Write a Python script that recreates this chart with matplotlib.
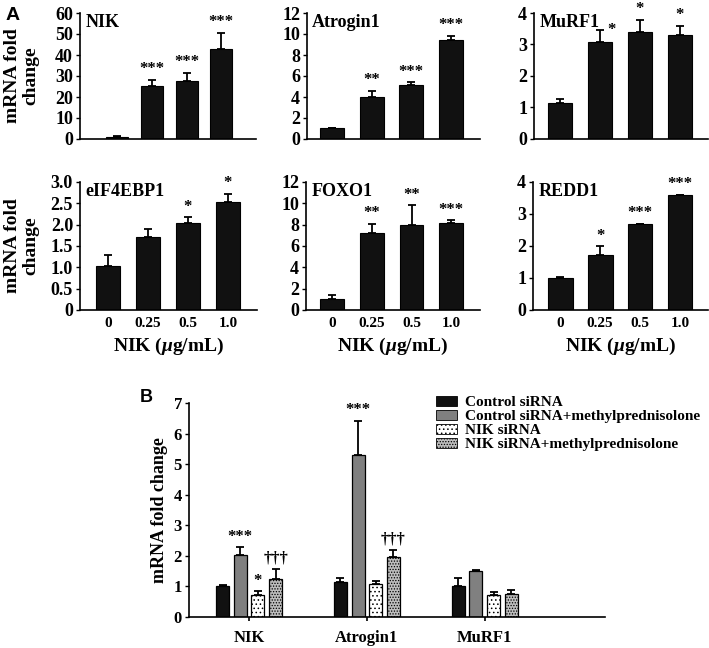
import numpy as np
import matplotlib.pyplot as plt
from matplotlib.patches import Patch

plt.rcParams['font.family'] = ['Liberation Serif', 'DejaVu Serif']
plt.rcParams['font.weight'] = 'bold'
plt.rcParams['axes.labelweight'] = 'bold'
plt.rcParams['mathtext.fontset'] = 'custom'
plt.rcParams['mathtext.rm'] = 'Liberation Serif:bold'
plt.rcParams['mathtext.it'] = 'Liberation Serif:bold:italic'
plt.rcParams['mathtext.bf'] = 'Liberation Serif:bold'
plt.rcParams['hatch.linewidth'] = 0.6

# ---- Panel A data ----
doses = ["0", "0.25", "0.5", "1.0"]
genes_a = ["NIK", "Atrogin1", "MuRF1", "eIF4EBP1", "FOXO1", "REDD1"]
means_a = [
    [1.0, 25.0, 27.5, 43.0],
    [1.0, 4.0, 5.1, 9.4],
    [1.15, 3.08, 3.4, 3.3],
    [1.03, 1.7, 2.05, 2.53],
    [1.05, 7.2, 8.0, 8.2],
    [1.0, 1.72, 2.7, 3.6],
]
errs_a = [
    [0.3, 3.0, 4.0, 7.5],
    [0.05, 0.6, 0.3, 0.4],
    [0.12, 0.38, 0.37, 0.3],
    [0.27, 0.2, 0.12, 0.2],
    [0.35, 0.85, 1.8, 0.2],
    [0.02, 0.27, 0.0, 0.0],
]
stars_a = [
    ["", "***", "***", "***"],
    ["", "**", "***", "***"],
    ["", "*", "*", "*"],
    ["", "", "*", "*"],
    ["", "**", "**", "***"],
    ["", "*", "***", "***"],
]
ymax_a = [60, 12, 4, 3.0, 12, 4]
ystep_a = [10, 2, 1, 0.5, 2, 1]

# ---- Panel B data ----
genes_b = ["NIK", "Atrogin1", "MuRF1"]
groups_b = ["Control siRNA", "Control siRNA+methylprednisolone",
            "NIK siRNA", "NIK siRNA+methylprednisolone"]
means_b = [
    [1.02, 1.14, 1.0],
    [2.03, 5.3, 1.51],
    [0.72, 1.07, 0.72],
    [1.25, 1.97, 0.75],
]
errs_b = [
    [0.03, 0.13, 0.27],
    [0.25, 1.12, 0.04],
    [0.12, 0.12, 0.11],
    [0.32, 0.22, 0.13],
]
marks_b = [
    ["", "", ""],
    ["***", "***", ""],
    ["*", "", ""],
    ["\u2020\u2020\u2020", "\u2020\u2020\u2020", ""],
]

W, H = 709, 648
fig = plt.figure(figsize=(W / 100, H / 100), dpi=100)


def px_axes(l, r, t, b):
    return fig.add_axes([l / W, 1 - b / H, (r - l) / W, (b - t) / H])


def style(ax):
    for s in ["top", "right"]:
        ax.spines[s].set_visible(False)
    for s in ["left", "bottom"]:
        ax.spines[s].set_linewidth(1.2)
    ax.tick_params(axis="y", length=3, width=1, labelsize=13, pad=2)


# axes rectangles (pixels) and x limits for the six small panels
rects = [(80, 256, 13, 139), (307, 480, 13, 139), (534, 708, 13, 139),
         (80, 257, 182, 310), (306, 480, 182, 310), (533, 708, 182, 310)]
xlims = [(-1.07, 4.0), (-0.63, 3.73), (-0.65, 3.7),
         (-0.7, 3.73), (-0.65, 3.72), (-0.68, 3.7)]
widths = [0.63, 0.6, 0.62, 0.6, 0.6, 0.62]

x = np.arange(len(doses))
for i, gene in enumerate(genes_a):
    ax = px_axes(*rects[i])
    style(ax)
    m = np.array(means_a[i])
    e = np.array(errs_a[i])
    ax.bar(x, m, width=widths[i], color="#111111", edgecolor="black", linewidth=0.8)
    ax.errorbar(x, m, yerr=[np.zeros_like(e), e], fmt="none", ecolor="black",
                elinewidth=1.3, capsize=3, capthick=1.3)
    ax.set_xlim(*xlims[i])
    ax.set_ylim(0, ymax_a[i])
    ticks = np.arange(0, ymax_a[i] + ystep_a[i] / 2, ystep_a[i])
    ax.set_yticks(ticks)
    if gene == "eIF4EBP1":
        ax.set_yticklabels(["0"] + [f"{t:.1f}" for t in ticks[1:]])
    else:
        ax.set_yticklabels([f"{t:g}" for t in ticks])
    if i >= 3:
        ax.set_xticks(x)
        ax.set_xticklabels(doses, fontsize=11)
        ax.tick_params(axis="x", length=0, pad=5)
        ax.set_xlabel("NIK ($\\mu$g/mL)", fontsize=14, labelpad=4)
    else:
        ax.set_xticks([])
    ax.text(0.03, 0.99, gene, transform=ax.transAxes, fontsize=13,
            ha="left", va="top")
    for j, s in enumerate(stars_a[i]):
        if not s:
            continue
        if gene == "MuRF1" and j == 1:
            ax.annotate(s, (x[j], m[j] + e[j]), xytext=(8, -6),
                        textcoords="offset points", ha="center", va="bottom",
                        fontsize=12)
        else:
            ax.annotate(s, (x[j], m[j] + e[j]), xytext=(0, 2),
                        textcoords="offset points", ha="center", va="bottom",
                        fontsize=12)

fig.text(22 / W, 1 - 76 / H, "mRNA fold\nchange", rotation=90, ha="center",
         va="center", fontsize=14, linespacing=1.1)
fig.text(22 / W, 1 - 246 / H, "mRNA fold\nchange", rotation=90, ha="center",
         va="center", fontsize=14, linespacing=1.1)
fig.text(6 / W, 1 - 16 / H, "A", fontsize=14, family="Liberation Sans",
         weight="bold", va="center")

# ---- Panel B ----
axb = px_axes(189, 605, 403, 617)
style(axb)
axb.tick_params(axis="y", labelsize=12)
gx = np.arange(len(genes_b))
offsets = [-0.225, -0.075, 0.075, 0.225]
faces = ["#111111", "#808080", "white", "#bdbdbd"]
hatches = [None, None, "....", "......"]
bw = 0.11
for k in range(len(groups_b)):
    m = np.array(means_b[k])
    e = np.array(errs_b[k])
    axb.bar(gx + offsets[k], m, width=bw, color=faces[k], edgecolor="black",
            linewidth=0.9, hatch=hatches[k])
    axb.errorbar(gx + offsets[k], m, yerr=[np.zeros_like(e), e], fmt="none",
                 ecolor="black", elinewidth=1.3, capsize=3, capthick=1.3)
    for j, s in enumerate(marks_b[k]):
        if s:
            axb.annotate(s, (gx[j] + offsets[k], m[j] + e[j]), xytext=(0, 2),
                         textcoords="offset points", ha="center", va="bottom",
                         fontsize=12)
axb.set_xlim(-0.51, 3.02)
axb.set_ylim(0, 7)
axb.set_yticks(range(8))
axb.set_xticks(gx)
axb.set_xticklabels(genes_b, fontsize=12)
axb.tick_params(axis="x", length=3, width=1.2, pad=6)
axb.set_ylabel("mRNA fold change", fontsize=13, labelpad=4)
handles = [Patch(facecolor=faces[k], edgecolor="black", hatch=hatches[k],
                 linewidth=0.6) for k in range(len(groups_b))]
axb.legend(handles, groups_b, loc="upper left",
           bbox_to_anchor=(430 / W, 1 - 390 / H), bbox_transform=fig.transFigure,
           frameon=False, fontsize=11, handlelength=1.4, handleheight=0.6,
           labelspacing=0.05, handletextpad=0.5, borderaxespad=0)
fig.text(140 / W, 1 - 398 / H, "B", fontsize=13, family="Liberation Sans",
         weight="bold", va="center")

fig.savefig("out.png", dpi=100)
